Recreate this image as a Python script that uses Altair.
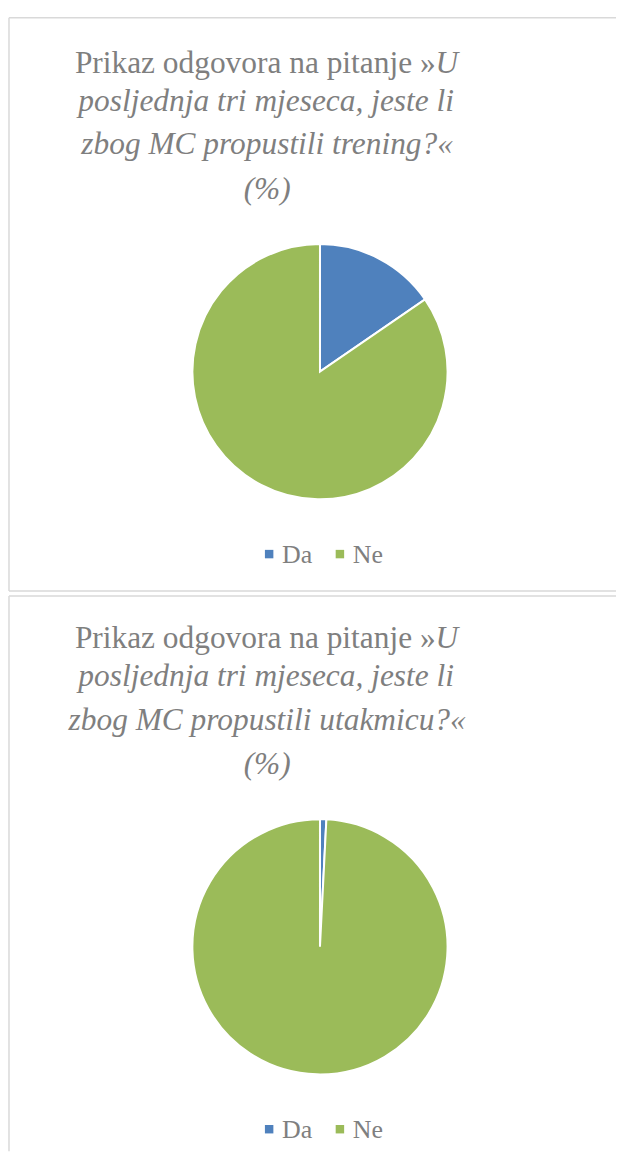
import altair as alt
import pandas as pd

# ---- data ----
categories = ["Da", "Ne"]
colors = ["#4F81BD", "#9BBB59"]
trening_values = [15.4, 84.6]
utakmica_values = [0.8, 99.2]

title1_lead = "Prikaz odgovora na pitanje »"
title1_lead_italic = "U"
title1_lines = ["posljednja tri mjeseca, jeste li", "zbog MC propustili trening?«", "(%)"]
title2_lines = ["posljednja tri mjeseca, jeste li", "zbog MC propustili utakmicu?«", "(%)"]

FONT = "Liberation Serif"
GRAY = "#7f7f7f"
BORDER = "#d9d9d9"
W = 609
LEGEND_SQUARE_X = [261, 332]   # layout positions of legend squares (view px)


def panel(values, lines, top_offset, height, bottom_border):
    df = pd.DataFrame({"odgovor": categories, "postotak": values, "red": list(range(len(categories)))})
    color_enc = alt.Color("odgovor:N", scale=alt.Scale(domain=categories, range=colors), legend=None)
    pie = alt.Chart(df).mark_arc(radius=128, stroke="white", strokeWidth=2).encode(
        theta=alt.Theta("postotak:Q", stack=True),
        order=alt.Order("red:Q"),
        color=color_enc,
        x=alt.value(312),
        y=alt.value(355 - top_offset),
    )

    leg_df = pd.DataFrame({"odgovor": categories})
    leg_x = alt.X("odgovor:N",
                  scale=alt.Scale(type="point", domain=categories, range=LEGEND_SQUARE_X, padding=0),
                  axis=None)
    leg_sq = alt.Chart(leg_df).mark_square(size=72, opacity=1).encode(
        x=leg_x, y=alt.value(538 - top_offset), color=color_enc,
    )
    leg_tx = alt.Chart(leg_df).mark_text(
        font=FONT, fontSize=26, color=GRAY, align="left", baseline="alphabetic", dx=13,
    ).encode(x=leg_x, y=alt.value(547 - top_offset), text="odgovor:N")

    def txt(s, x, y, align="center", italic=True):
        return alt.Chart(pd.DataFrame({"t": [s]})).mark_text(
            font=FONT, fontSize=31.5, color=GRAY, align=align, baseline="alphabetic",
            fontStyle="italic" if italic else "normal",
        ).encode(text="t:N", x=alt.value(x), y=alt.value(y))

    texts = [
        txt(title1_lead, 428, 55 - top_offset, align="right", italic=False),
        txt(title1_lead_italic, 428, 55 - top_offset, align="left", italic=True),
        txt(lines[0], 258, 93 - top_offset),
        txt(lines[1], 259, 137 - top_offset),
        txt(lines[2], 259, 182 - top_offset),
    ]

    dummy = pd.DataFrame({"k": [0]})
    rules = [
        alt.Chart(dummy).mark_rule(color=BORDER, strokeWidth=1.5).encode(
            x=alt.value(0), x2=alt.value(W), y=alt.value(0)),
        alt.Chart(dummy).mark_rule(color=BORDER, strokeWidth=1.5).encode(
            x=alt.value(0), y=alt.value(0), y2=alt.value(height)),
    ]
    if bottom_border:
        rules.append(alt.Chart(dummy).mark_rule(color=BORDER, strokeWidth=1.5).encode(
            x=alt.value(0), x2=alt.value(W), y=alt.value(height)))

    return alt.layer(*rules, *texts, pie, leg_sq, leg_tx).properties(width=W, height=height)


p1 = panel(trening_values, title1_lines, 0, 575, True)
p2 = panel(utakmica_values, title2_lines, 3, 557, False)

chart = alt.vconcat(p1, p2, spacing=3).resolve_scale(x="independent").properties(
    padding={"left": 0, "top": 7, "right": 0, "bottom": 0}
).configure_view(strokeWidth=0)

chart.save("out.html", embed_options={"renderer": "svg", "actions": False})
